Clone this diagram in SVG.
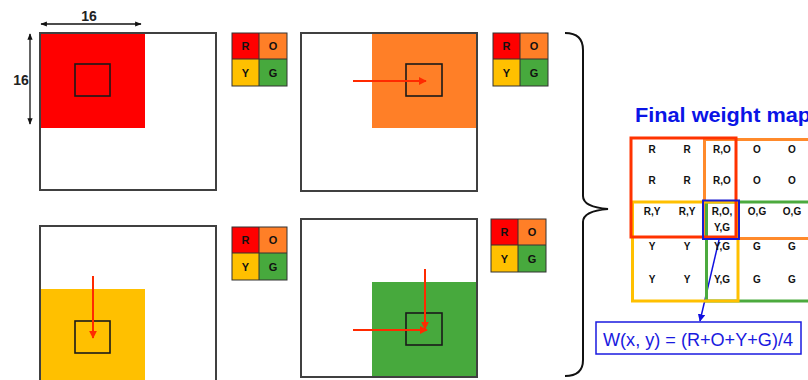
<svg xmlns="http://www.w3.org/2000/svg" width="808" height="380" viewBox="0 0 808 380">
<style>
.big{fill:none;stroke:#404040;stroke-width:2}
.small{fill:none;stroke:#1a1a1a;stroke-width:1.6}
.lg{font-family:"Liberation Sans",Arial,sans-serif;font-weight:bold;font-size:11px;text-anchor:middle;fill:#111}
.cell{font-family:"Liberation Sans",Arial,sans-serif;font-weight:bold;font-size:10px;text-anchor:middle;fill:#111}
.dim{font-family:"Liberation Sans",Arial,sans-serif;font-weight:bold;font-size:14px;text-anchor:middle;fill:#222}
.rarrow{stroke:#FF2A00;stroke-width:2;fill:none;marker-end:url(#ra)}
.lgline{stroke:#333;stroke-width:1}
</style>
<defs>
<marker id="ra" viewBox="0 0 10 10" refX="9" refY="5" markerWidth="4" markerHeight="4" orient="auto"><path d="M0,0L10,5L0,10z" fill="#FF2A00"/></marker>
<marker id="da" viewBox="0 0 10 10" refX="9" refY="5" markerWidth="5" markerHeight="5" orient="auto-start-reverse"><path d="M0,1L10,5L0,9z" fill="#111"/></marker>
<marker id="ba" viewBox="0 0 10 10" refX="9" refY="5" markerWidth="5" markerHeight="5" orient="auto"><path d="M0,0L10,5L0,10z" fill="#1010E0"/></marker>
<g id="legendTpl">
<rect x="0" y="0" width="27" height="26" fill="#FF0000"/>
<rect x="27" y="0" width="28" height="26" fill="#FF7F27"/>
<rect x="0" y="26" width="27" height="27" fill="#FFC000"/>
<rect x="27" y="26" width="28" height="27" fill="#47A93D"/>
<rect x="0" y="0" width="55" height="53" fill="none" stroke="#333" stroke-width="1"/>
<line x1="27" y1="0" x2="27" y2="53" class="lgline"/>
<line x1="0" y1="26" x2="55" y2="26" class="lgline"/>
<text x="13.5" y="17" class="lg">R</text>
<text x="41" y="17" class="lg">O</text>
<text x="13.5" y="44" class="lg">Y</text>
<text x="41" y="44" class="lg">G</text>
</g>
</defs>
<rect width="808" height="380" fill="#fff"/>

<g id="panel-red">
<rect x="40" y="33" width="105" height="95" fill="#FF0000"/>
<rect x="40" y="33" width="176" height="157" class="big"/>
<rect x="75" y="64" width="35" height="32" class="small"/>
</g>
<g id="dim-h">
<line x1="41" y1="24" x2="141" y2="24" stroke="#111" stroke-width="1.3" marker-start="url(#da)" marker-end="url(#da)"/>
<text x="89" y="21" class="dim">16</text>
</g>
<g id="dim-v">
<line x1="30" y1="34" x2="30" y2="124" stroke="#111" stroke-width="1.3" marker-start="url(#da)" marker-end="url(#da)"/>
<text x="21" y="85" class="dim">16</text>
</g>
<g id="legend-1"><use href="#legendTpl" transform="translate(232,33)"/></g>

<g id="panel-orange">
<rect x="372" y="33" width="105" height="95" fill="#FF7F27"/>
<rect x="301" y="33" width="176" height="158" class="big"/>
<rect x="406" y="64" width="36" height="32" class="small"/>
</g>
<g id="legend-2"><use href="#legendTpl" transform="translate(493,33)"/></g>

<g id="panel-yellow">
<rect x="40" y="289" width="105" height="95" fill="#FFC000"/>
<rect x="40" y="226" width="176" height="170" class="big"/>
<rect x="75" y="321" width="35" height="32" class="small"/>
</g>
<g id="legend-3"><use href="#legendTpl" transform="translate(232,227)"/></g>

<g id="panel-green">
<rect x="372" y="282" width="105" height="95" fill="#47A93D"/>
<rect x="301" y="219" width="176" height="158" class="big"/>
<rect x="406" y="313" width="36" height="32" class="small"/>
</g>
<g id="legend-4"><use href="#legendTpl" transform="translate(491,219)"/></g>

<g id="connectors">
<line x1="353" y1="81" x2="426" y2="81" class="rarrow"/>
<line x1="93" y1="276" x2="93" y2="338" class="rarrow"/>
<line x1="353" y1="330" x2="427" y2="330" class="rarrow"/>
<line x1="425" y1="269" x2="425" y2="329" class="rarrow"/>
<line x1="719" y1="240" x2="700" y2="321" stroke="#1010E0" stroke-width="1.5" marker-end="url(#ba)"/>
</g>

<g id="brace">
<path d="M565,33 Q583,33 583,50 L583,196 Q583,207 608,209 Q583,211 583,222 L583,360 Q583,376 565,376" fill="none" stroke="#111" stroke-width="2"/>
</g>

<g id="final-map">
<text x="635" y="122" font-family="Liberation Sans,Arial,sans-serif" font-weight="bold" font-size="21" fill="#0A14E6" textLength="176" lengthAdjust="spacingAndGlyphs">Final weight map</text>
<rect x="704.5" y="139.5" width="110" height="99" fill="none" stroke="#FF8A2B" stroke-width="3"/>
<rect x="706.5" y="202" width="110" height="99" fill="none" stroke="#4CAA3E" stroke-width="3"/>
<rect x="632.5" y="202" width="105.5" height="99" fill="none" stroke="#FFC000" stroke-width="3"/>
<rect x="631" y="138" width="105" height="99" fill="none" stroke="#FF3300" stroke-width="3"/>
<rect x="703" y="200.5" width="36" height="38.5" fill="none" stroke="#1A1AD0" stroke-width="2"/>
<g class="cells">
<text x="652" y="153" class="cell">R</text>
<text x="687" y="153" class="cell">R</text>
<text x="722" y="153" class="cell">R,O</text>
<text x="757" y="153" class="cell">O</text>
<text x="792" y="153" class="cell">O</text>
<text x="652" y="184" class="cell">R</text>
<text x="687" y="184" class="cell">R</text>
<text x="722" y="184" class="cell">R,O</text>
<text x="757" y="184" class="cell">O</text>
<text x="792" y="184" class="cell">O</text>
<text x="652" y="215" class="cell">R,Y</text>
<text x="687" y="215" class="cell">R,Y</text>
<text x="722" y="215" class="cell">R,O,</text>
<text x="722" y="231" class="cell">Y,G</text>
<text x="757" y="215" class="cell">O,G</text>
<text x="792" y="215" class="cell">O,G</text>
<text x="652" y="250" class="cell">Y</text>
<text x="687" y="250" class="cell">Y</text>
<text x="722" y="250" class="cell">Y,G</text>
<text x="757" y="250" class="cell">G</text>
<text x="792" y="250" class="cell">G</text>
<text x="652" y="283" class="cell">Y</text>
<text x="687" y="283" class="cell">Y</text>
<text x="722" y="283" class="cell">Y,G</text>
<text x="757" y="283" class="cell">G</text>
<text x="792" y="283" class="cell">G</text>
</g>
</g>

<g id="formula">
<rect x="596" y="322" width="205" height="32" fill="#fff" stroke="#1A1AE0" stroke-width="1.5"/>
<text x="603" y="346" font-family="Liberation Sans,Arial,sans-serif" font-size="19" fill="#1A1AE0" textLength="190" lengthAdjust="spacingAndGlyphs">W(x, y) = (R+O+Y+G)/4</text>
</g>
</svg>
